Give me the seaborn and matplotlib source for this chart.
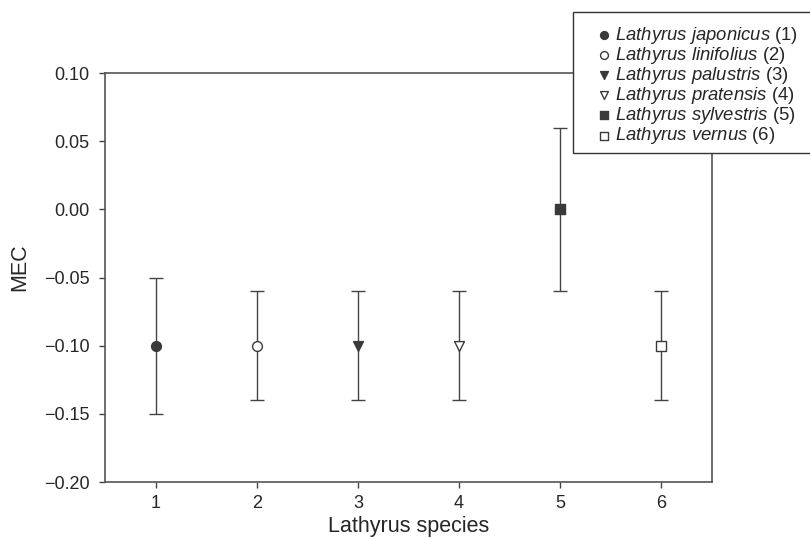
import numpy as np
import pandas as pd
import seaborn as sns
import matplotlib.pyplot as plt
from matplotlib.patches import Rectangle

# datos
species = ['Lathyrus japonicus', 'Lathyrus linifolius', 'Lathyrus palustris',
           'Lathyrus pratensis', 'Lathyrus sylvestris', 'Lathyrus vernus']
species_id = [1, 2, 3, 4, 5, 6]
mec_mean = [-0.10, -0.10, -0.10, -0.10, 0.00, -0.10]
mec_low = [-0.15, -0.14, -0.14, -0.14, -0.06, -0.14]
mec_high = [-0.05, -0.06, -0.06, -0.06, 0.06, -0.06]
y_ticks = [-0.20, -0.15, -0.10, -0.05, 0.00, 0.05, 0.10]

marker_shapes = ['o', 'o', 'v', 'v', 's', 's']
marker_filled = [True, False, True, False, True, False]

df = pd.DataFrame({
    'id': species_id,
    'mec': mec_mean,
    'low': mec_low,
    'high': mec_high,
})
df['label'] = [r'$\it{' + s.replace(' ', r'\ ') + '}$' + f' ({i})'
               for s, i in zip(species, species_id)]

sns.set_style('ticks')
plt.rcParams['font.family'] = ['Liberation Sans', 'DejaVu Sans']
plt.rcParams['mathtext.fontset'] = 'custom'
plt.rcParams['mathtext.it'] = 'Liberation Sans:italic'
plt.rcParams['mathtext.rm'] = 'Liberation Sans'

W, H = 810, 539
fig = plt.figure(figsize=(W / 100, H / 100), dpi=100)
ax = fig.add_axes([105 / W, 1 - 482 / H, 607 / W, 409 / H])

dark = '#3a3a3a'
ax.errorbar(df['id'], df['mec'],
            yerr=[df['mec'] - df['low'], df['high'] - df['mec']],
            fmt='none', ecolor='#444444', elinewidth=1.0, capsize=5,
            capthick=1.0, zorder=1)

for i, row in df.iterrows():
    face = dark if marker_filled[i] else 'white'
    sns.scatterplot(x=[row['id']], y=[row['mec']], ax=ax,
                    marker=marker_shapes[i], s=50, color=face,
                    edgecolor=dark, linewidth=1.0, label=row['label'],
                    zorder=3)

ax.set_xlim(0.5, 6.5)
ax.set_ylim(-0.20, 0.10)
ax.set_xticks(species_id)
ax.set_yticks(y_ticks)
ax.set_yticklabels([f'{v:.2f}'.replace('-', '\u2212') for v in y_ticks])
ax.tick_params(labelsize=13, length=4.3, width=1, color='#444444', direction='out')
ax.tick_params(axis='y', pad=7)
ax.tick_params(axis='x', pad=5)
ax.set_xlabel('Lathyrus species', fontsize=15.5, labelpad=3)
ax.set_ylabel('MEC', fontsize=15.5)
ax.yaxis.set_label_coords(-0.123, 0.525)
for sp in ax.spines.values():
    sp.set_color('#555555')
    sp.set_linewidth(1.2)
    sp.set_visible(True)

# leyenda a nivel de figura para que quede encima del marco
handles, labels = ax.get_legend_handles_labels()
ax.get_legend().remove()
leg = fig.legend(handles, labels, loc='upper left',
                 bbox_to_anchor=(597 / W, 1 - 25 / H),
                 bbox_transform=fig.transFigure, fontsize=13.3,
                 frameon=False, handletextpad=0.2, borderaxespad=0.0,
                 handlelength=0.8, labelspacing=-0.05, borderpad=0.0,
                 markerscale=0.8)
leg.set_zorder(10)

# marco de la leyenda (sale por el borde derecho como en el original)
fig.patches.append(Rectangle((573 / W, 1 - 153 / H), 241 / W, 141 / H,
                             transform=fig.transFigure, fill=True,
                             facecolor='white', edgecolor='#333333',
                             linewidth=1.0, zorder=5))

fig.savefig('out.png', dpi=100)
